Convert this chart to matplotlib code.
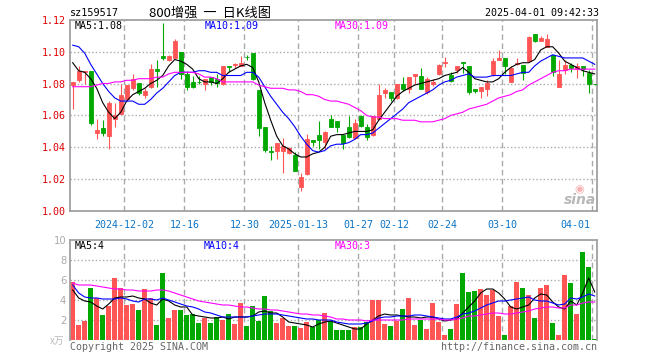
import matplotlib
matplotlib.use("Agg")
import matplotlib.pyplot as plt
import numpy as np

W, H = 660, 360

# daily candles, 2024-11-19 .. 2025-04-01
opens = [1.079, 1.082, 1.087, 1.088, 1.049, 1.052, 1.047, 1.058, 1.061, 1.070,
         1.077, 1.080, 1.073, 1.078, 1.089, 1.097, 1.095, 1.096, 1.100, 1.086,
         1.081, 1.0812, 1.080, 1.084, 1.083, 1.080, 1.0910, 1.0915, 1.091, 1.0967,
         1.099, 1.076, 1.053, 1.0376, 1.038, 1.038, 1.0364, 1.035, 1.0153, 1.0232,
         1.0447, 1.0477, 1.0431, 1.0577, 1.0567, 1.0477, 1.0525, 1.0456, 1.0594, 1.0525,
         1.0477, 1.0577, 1.074, 1.0744, 1.0712, 1.0796, 1.0765, 1.0848, 1.0848, 1.0744,
         1.0796, 1.0858, 1.0930, 1.0854, 1.0883, 1.0932, 1.0911, 1.0765, 1.0750, 1.0765,
         1.086, 1.095, 1.096, 1.081, 1.092, 1.0916, 1.094, 1.111, 1.1069, 1.103,
         1.098, 1.078, 1.0887, 1.0916, 1.089, 1.091, 1.0866, 1.0799]
closes = [1.081, 1.088, 1.0876, 1.055, 1.051, 1.049, 1.068, 1.060, 1.073, 1.079,
          1.083, 1.074, 1.075, 1.089, 1.088, 1.096, 1.0974, 1.1065, 1.086, 1.078,
          1.078, 1.0808, 1.083, 1.081, 1.0806, 1.0908, 1.0905, 1.0920, 1.0929, 1.0963,
          1.0827, 1.052, 1.0385, 1.0374, 1.0427, 1.0406, 1.0399, 1.025, 1.0215, 1.0452,
          1.0431, 1.0447, 1.0498, 1.0525, 1.0525, 1.0427, 1.0462, 1.0552, 1.0531, 1.0468,
          1.0594, 1.0728, 1.076, 1.0708, 1.0796, 1.0765, 1.0838, 1.0858, 1.0765, 1.0827,
          1.0812, 1.0917, 1.0932, 1.0817, 1.0911, 1.0930, 1.0744, 1.0750, 1.0775, 1.0806,
          1.094, 1.096, 1.091, 1.0895, 1.093, 1.0866, 1.109, 1.1063, 1.1083, 1.108,
          1.087, 1.086, 1.0916, 1.0895, 1.091, 1.089, 1.0797, 1.0797]
highs = [1.081, 1.091, 1.088, 1.088, 1.058, 1.057, 1.069, 1.068, 1.080, 1.079,
         1.086, 1.080, 1.077, 1.092, 1.095, 1.118, 1.098, 1.108, 1.100, 1.088,
         1.085, 1.085, 1.083, 1.084, 1.086, 1.091, 1.091, 1.093, 1.097, 1.098,
         1.099, 1.076, 1.053, 1.041, 1.043, 1.046, 1.040, 1.037, 1.0242, 1.0483,
         1.0447, 1.0567, 1.050, 1.0602, 1.0567, 1.0477, 1.0598, 1.0577, 1.0602, 1.0546,
         1.0598, 1.0797, 1.077, 1.0744, 1.080, 1.0838, 1.084, 1.0858, 1.0896, 1.0838,
         1.0827, 1.0925, 1.0967, 1.0875, 1.0911, 1.0932, 1.0911, 1.0765, 1.078, 1.082,
         1.096, 1.101, 1.096, 1.091, 1.096, 1.0916, 1.110, 1.111, 1.110, 1.111,
         1.098, 1.095, 1.095, 1.093, 1.093, 1.091, 1.0887, 1.0799]
lows = [1.064, 1.081, 1.080, 1.054, 1.045, 1.047, 1.039, 1.053, 1.061, 1.069,
        1.076, 1.073, 1.071, 1.077, 1.078, 1.095, 1.094, 1.096, 1.083, 1.076,
        1.077, 1.080, 1.076, 1.079, 1.078, 1.079, 1.087, 1.090, 1.091, 1.095,
        1.082, 1.047, 1.037, 1.032, 1.0326, 1.024, 1.036, 1.025, 1.0127, 1.0228,
        1.041, 1.0393, 1.0389, 1.0525, 1.0498, 1.0393, 1.0456, 1.0452, 1.0525, 1.0447,
        1.0473, 1.0573, 1.071, 1.069, 1.070, 1.0754, 1.074, 1.0796, 1.0765, 1.0733,
        1.0785, 1.0854, 1.0904, 1.0812, 1.0863, 1.0863, 1.0737, 1.074, 1.0708, 1.0723,
        1.085, 1.095, 1.086, 1.081, 1.0915, 1.0824, 1.094, 1.1058, 1.1063, 1.103,
        1.0845, 1.078, 1.086, 1.087, 1.0832, 1.0845, 1.074, 1.079]

ma5 = [1.093, 1.088, 1.087, 1.083, 1.077, 1.068, 1.062, 1.058, 1.062, 1.069,
       1.073, 1.075, 1.077, 1.080, 1.082, 1.085, 1.091, 1.095, 1.094, 1.092,
       1.089, 1.083, 1.081, 1.081, 1.080, 1.083, 1.087, 1.089, 1.091, 1.092,
       1.090, 1.081, 1.068, 1.057, 1.047, 1.041, 1.039, 1.036, 1.034, 1.034,
       1.036, 1.037, 1.040, 1.047, 1.048, 1.048, 1.049, 1.050, 1.050, 1.050,
       1.051, 1.057, 1.062, 1.067, 1.072, 1.075, 1.077, 1.079, 1.080, 1.081,
       1.082, 1.083, 1.085, 1.086, 1.087, 1.090, 1.087, 1.083, 1.082, 1.081,
       1.081, 1.083, 1.087, 1.090, 1.092, 1.093, 1.093, 1.095, 1.101, 1.103,
       1.103, 1.099, 1.094, 1.092, 1.090, 1.088, 1.087, 1.086]
ma10 = [1.104, 1.103, 1.099, 1.092, 1.086, 1.080, 1.075, 1.071, 1.069, 1.069,
        1.069, 1.067, 1.067, 1.070, 1.074, 1.077, 1.081, 1.085, 1.087, 1.087,
        1.087, 1.088, 1.088, 1.087, 1.087, 1.085, 1.085, 1.085, 1.085, 1.087,
        1.087, 1.084, 1.078, 1.072, 1.067, 1.062, 1.058, 1.053, 1.047, 1.042,
        1.038, 1.037, 1.038, 1.041, 1.042, 1.042, 1.043, 1.045, 1.048, 1.048,
        1.049, 1.052, 1.055, 1.058, 1.061, 1.064, 1.068, 1.070, 1.072, 1.074,
        1.076, 1.079, 1.081, 1.082, 1.084, 1.085, 1.086, 1.084, 1.084, 1.084,
        1.085, 1.085, 1.085, 1.085, 1.086, 1.087, 1.087, 1.091, 1.094, 1.096,
        1.098, 1.097, 1.096, 1.096, 1.096, 1.096, 1.094, 1.092]
ma30 = [1.078, 1.078, 1.078, 1.078, 1.079, 1.080, 1.080, 1.081, 1.081, 1.082,
        1.082, 1.083, 1.083, 1.083, 1.084, 1.084, 1.086, 1.087, 1.087, 1.087,
        1.087, 1.086, 1.084, 1.084, 1.083, 1.081, 1.081, 1.081, 1.081, 1.081,
        1.081, 1.079, 1.078, 1.077, 1.077, 1.077, 1.076, 1.076, 1.075, 1.073,
        1.073, 1.072, 1.070, 1.069, 1.069, 1.068, 1.067, 1.065, 1.063, 1.060,
        1.059, 1.059, 1.058, 1.058, 1.058, 1.057, 1.057, 1.057, 1.056, 1.056,
        1.056, 1.057, 1.058, 1.060, 1.061, 1.062, 1.064, 1.065, 1.066, 1.067,
        1.069, 1.071, 1.072, 1.073, 1.075, 1.076, 1.079, 1.081, 1.083, 1.085,
        1.087, 1.088, 1.088, 1.089, 1.089, 1.089, 1.089, 1.089]

# volume, 万
volumes = [5.8, 1.5, 1.9, 5.2, 4.2, 2.5, 3.4, 6.2, 5.2, 3.5,
           3.6, 3.0, 5.1, 4.2, 1.5, 6.7, 2.2, 3.0, 3.0, 2.5,
           2.6, 1.7, 2.2, 1.7, 2.3, 2.0, 2.6, 1.6, 3.7, 1.4,
           3.4, 1.9, 4.4, 2.9, 1.7, 2.2, 1.4, 1.4, 1.2, 1.8,
           1.3, 2.0, 2.7, 1.9, 1.0, 1.0, 1.0, 1.3, 1.3, 1.8,
           4.0, 4.0, 1.6, 1.4, 1.9, 3.1, 4.2, 1.5, 2.0, 1.1,
           3.7, 1.8, 0.5, 1.1, 3.6, 6.7, 4.8, 4.9, 5.1, 4.5,
           5.0, 2.4, 0.5, 3.4, 5.8, 5.2, 4.5, 2.2, 5.2, 5.5,
           1.7, 0.5, 6.5, 5.7, 2.6, 8.8, 7.3, 0.1]
vol_ma5 = [5.0, 4.2, 3.9, 3.8, 3.4, 3.1, 3.6, 4.2, 4.3, 4.3,
           4.4, 4.2, 4.1, 3.7, 3.5, 4.1, 3.9, 3.5, 3.3, 3.3,
           2.5, 2.4, 2.3, 2.2, 2.2, 2.3, 2.1, 2.3, 2.3, 2.3,
           2.4, 2.8, 2.9, 2.7, 2.7, 2.3, 1.8, 1.7, 1.6, 1.5,
           1.3, 1.6, 1.8, 1.9, 1.7, 1.5, 1.3, 1.1, 1.1, 1.6,
           2.0, 2.4, 2.6, 2.5, 2.5, 2.4, 2.3, 2.3, 2.2, 2.3,
           2.3, 2.1, 1.9, 2.0, 2.1, 2.7, 3.3, 3.9, 4.7, 5.1,
           5.1, 4.7, 4.1, 3.3, 3.1, 3.3, 3.5, 4.2, 4.6, 4.5,
           3.8, 3.3, 3.1, 3.9, 3.5, 4.7, 6.2, 4.8]
vol_ma10 = [5.5, 4.7, 4.3, 4.2, 4.2, 4.1, 4.1, 4.1, 4.2, 4.1,
            3.9, 3.8, 4.1, 4.1, 4.0, 4.2, 4.0, 3.8, 3.6, 3.4,
            3.3, 3.1, 2.8, 2.7, 2.5, 2.3, 2.3, 2.3, 2.3, 2.3,
            2.4, 2.5, 2.6, 2.6, 2.6, 2.5, 2.4, 2.3, 2.2, 2.1,
            2.1, 2.0, 2.0, 2.0, 1.8, 1.7, 1.6, 1.6, 1.6, 1.7,
            1.9, 2.2, 2.3, 2.3, 2.4, 2.4, 2.4, 2.5, 2.5, 2.4,
            2.3, 2.2, 2.1, 2.1, 2.3, 2.6, 2.7, 2.9, 3.2, 3.5,
            3.7, 3.9, 3.9, 4.0, 4.1, 4.2, 4.3, 4.0, 3.9, 3.9,
            3.7, 3.5, 3.6, 4.2, 4.1, 4.3, 4.6, 4.4]
vol_ma30 = [5.7, 5.5, 5.5, 5.5, 5.4, 5.3, 5.2, 5.1, 5.1, 5.0,
            5.0, 4.9, 4.9, 4.9, 5.0, 5.0, 4.9, 4.7, 4.5, 4.3,
            4.1, 3.9, 3.8, 3.7, 3.6, 3.5, 3.5, 3.4, 3.3, 3.3,
            3.2, 3.1, 3.1, 3.0, 3.0, 2.9, 2.8, 2.7, 2.6, 2.6,
            2.5, 2.5, 2.4, 2.3, 2.1, 2.1, 2.0, 2.0, 2.0, 1.9,
            2.0, 2.0, 2.0, 2.0, 2.0, 2.0, 2.1, 2.1, 2.1, 2.1,
            2.1, 2.1, 2.0, 2.0, 2.1, 2.2, 2.4, 2.4, 2.5, 2.6,
            2.7, 2.7, 2.6, 2.6, 2.7, 2.8, 2.9, 3.1, 3.2, 3.3,
            3.3, 3.2, 3.2, 3.5, 3.5, 3.7, 3.8, 3.8]

date_labels = ["2024-12-02", "12-16", "12-30", "2025-01-13", "01-27",
               "02-12", "02-24", "03-10", "04-01"]
date_index = [9, 19, 29, 38, 48, 54, 62, 72, 87]
price_ticks = [1.00, 1.02, 1.04, 1.06, 1.08, 1.10, 1.12]
vol_ticks = [2, 4, 6, 8, 10]

RED = "#ff5555"
GREEN = "#00a800"
GRID = "#aaaaaa"
FRAME = "#a0a0a0"
MONO = "DejaVu Sans Mono"
CJK = ["Noto Sans CJK SC", "DejaVu Sans"]


def px(x, y):
    return x / W, 1 - y / H


x = np.arange(len(opens))
o = np.array(opens)
c = np.array(closes)
up = c >= o
colors = np.where(up, RED, GREEN)

fig = plt.figure(figsize=(W / 100, H / 100), dpi=100)
fig.patch.set_facecolor("white")

left, right = 70.3, 597.3
ax = fig.add_axes([left / W, 1 - 211.3 / H, (right - left) / W, (211.3 - 19.6) / H])
axv = fig.add_axes([left / W, 1 - 340 / H, (right - left) / W, 100 / H])

xlim = (-0.4, (right - 72.7) / 6)
grid_x = [i - 0.4 for i in date_index]

# ---- price panel
ax.set_xlim(*xlim)
ax.set_ylim(1.00, 1.12)
for v in price_ticks[1:-1]:
    ax.axhline(v, color=GRID, lw=1.0, ls=(0, (1, 1.6)), zorder=0)
for gx in grid_x:
    ax.axvline(gx, color=GRID, lw=1.0, ls=(0, (4, 2.5)), zorder=0)

ax.vlines(x, lows, highs, colors=colors, lw=0.8, zorder=2)
ax.bar(x, np.abs(c - o), bottom=np.minimum(o, c), width=0.72,
       color=colors, edgecolor=colors, lw=0.6, zorder=3)

ax.plot(x, ma5, color="black", lw=0.8, zorder=4)
ax.plot(x, ma10, color="#0000ff", lw=0.8, zorder=4)
ax.plot(x, ma30, color="#ff00ff", lw=0.8, zorder=4)

ax.set_yticks(price_ticks)
ax.set_yticklabels([f"{v:.2f}" for v in price_ticks], family=MONO,
                   fontsize=7.2, color="#e00000")
ax.tick_params(axis="y", length=0, pad=3)
ax.set_xticks([])
for sp in ax.spines.values():
    sp.set_color(FRAME)
    sp.set_linewidth(1.3)

for lab, gx in zip(date_labels, grid_x):
    ha = "right" if lab == "04-01" else "center"
    xx = gx - 0.35 if lab == "04-01" else gx
    ax.annotate(lab, (xx, 0), xycoords=("data", "axes fraction"),
                xytext=(0, -10), textcoords="offset points",
                ha=ha, va="center", fontsize=7.2, family=MONO, color="#0b74c6")

# ---- volume panel
axv.set_xlim(*xlim)
axv.set_ylim(0, 10)
for v in vol_ticks[:-1]:
    axv.axhline(v, color=GRID, lw=1.0, ls=(0, (1, 1.6)), zorder=0)
for gx in grid_x:
    axv.axvline(gx, color=GRID, lw=1.0, ls=(0, (4, 2.5)), zorder=0)
axv.bar(x, volumes, width=0.83, color=colors, lw=0, zorder=2)
axv.plot(x, vol_ma5, color="black", lw=0.8, zorder=4)
axv.plot(x, vol_ma10, color="#0000ff", lw=0.8, zorder=4)
axv.plot(x, vol_ma30, color="#ff00ff", lw=0.8, zorder=4)
axv.set_yticks(vol_ticks)
axv.set_yticklabels([str(v) for v in vol_ticks], fontsize=7.2, color="#aaaaaa")
axv.tick_params(axis="y", length=0, pad=3)
axv.set_xticks([])
for name, sp in axv.spines.items():
    sp.set_color(FRAME)
    sp.set_linewidth(1.3)
axv.spines["bottom"].set_visible(False)

# ---- texts
fig.text(*px(70, 13), "sz159517", family=MONO, fontsize=7.3, va="center")
fig.text(*px(210, 13), "800增强  一  日K线图", family=CJK, fontsize=9.5,
         ha="center", va="center")
fig.text(*px(599, 13), "2025-04-01 09:42:33", family=MONO, fontsize=7.2,
         ha="right", va="center")

fig.text(*px(75, 26), "MA5:1.08", family=MONO, fontsize=7.2, va="center")
fig.text(*px(205, 26), "MA10:1.09", family=MONO, fontsize=7.2, va="center",
         color="#0000ff")
fig.text(*px(335, 26), "MA30:1.09", family=MONO, fontsize=7.2, va="center",
         color="#ff00ff")

fig.text(*px(75, 246), "MA5:4", family=MONO, fontsize=7.2, va="center")
fig.text(*px(204, 246), "MA10:4", family=MONO, fontsize=7.2, va="center",
         color="#0000ff")
fig.text(*px(335, 246), "MA30:3", family=MONO, fontsize=7.2, va="center",
         color="#ff00ff")

fig.text(*px(57, 341), "x万", family=CJK, fontsize=7, ha="center",
         va="center", color="#bbbbbb")
fig.text(*px(70, 347), "Copyright 2025 SINA.COM", family=MONO, fontsize=7.2,
         va="center", color="#666666")
fig.text(*px(597, 347), "http://finance.sina.com.cn", family=MONO,
         fontsize=7.2, ha="right", va="center", color="#666666")

# sina watermark
fig.text(*px(579, 189), "◉", fontsize=8, ha="center", va="center",
         color="#f4a0a0", alpha=0.8)
fig.text(*px(580, 200), "sina", fontsize=10, fontweight="bold",
         style="italic", ha="center", va="center", color="#b8b8b8")

fig.savefig("out.png", dpi=100)
